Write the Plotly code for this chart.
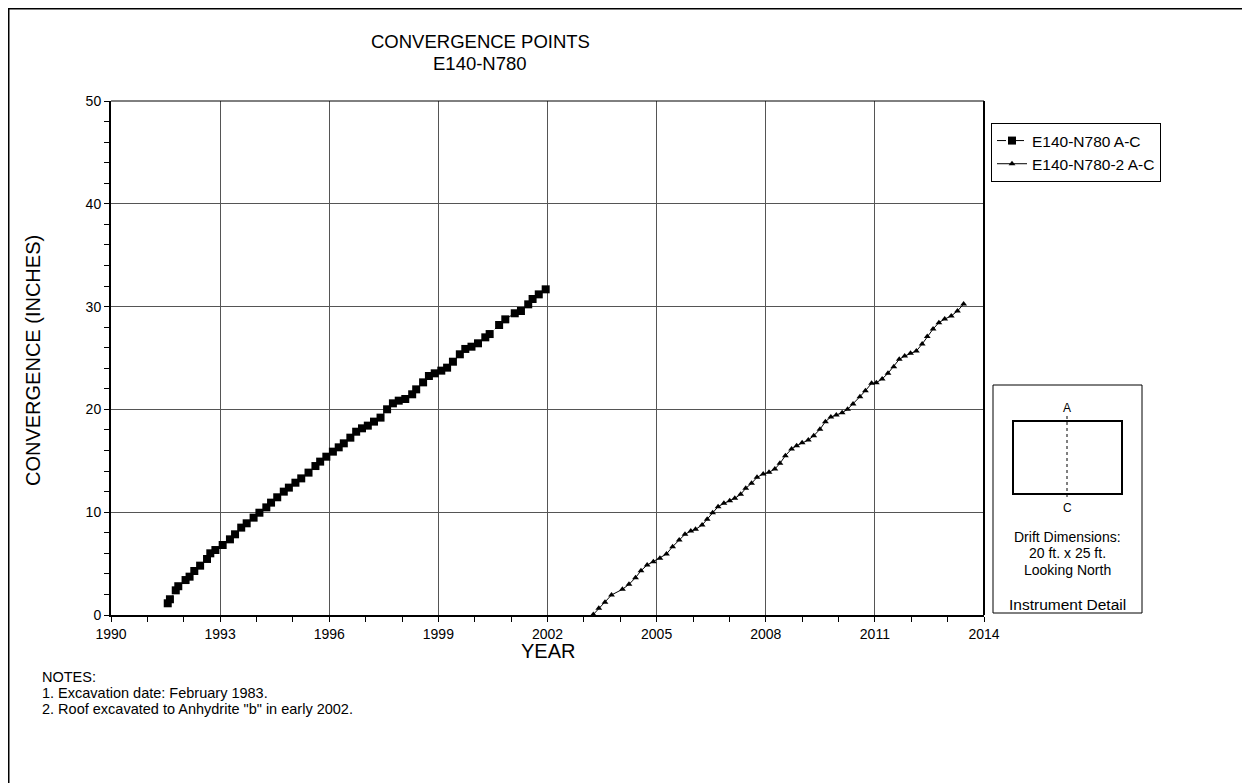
import plotly.graph_objects as go

# Series 1: E140-N780 A-C (squares)
s1_year = [1991.56, 1991.62, 1991.78, 1991.85, 1992.05, 1992.16, 1992.29, 1992.45, 1992.64, 1992.73,
           1992.87, 1993.07, 1993.27, 1993.41, 1993.58, 1993.73, 1993.92, 1994.08, 1994.27, 1994.40,
           1994.57, 1994.75, 1994.89, 1995.07, 1995.23, 1995.43, 1995.62, 1995.75, 1995.92, 1996.10,
           1996.26, 1996.40, 1996.58, 1996.74, 1996.90, 1997.06, 1997.23, 1997.41, 1997.59, 1997.75,
           1997.91, 1998.09, 1998.28, 1998.39, 1998.58, 1998.74, 1998.90, 1999.08, 1999.24, 1999.40,
           1999.59, 1999.74, 1999.91, 2000.09, 2000.29, 2000.41, 2000.67, 2000.84, 2001.10, 2001.27,
           2001.47, 2001.59, 2001.76, 2001.95]
s1_conv = [1.14, 1.53, 2.40, 2.80, 3.40, 3.73, 4.28, 4.80, 5.45, 6.00,
           6.32, 6.81, 7.36, 7.85, 8.50, 8.92, 9.47, 9.95, 10.47, 10.93,
           11.45, 12.00, 12.39, 12.87, 13.29, 13.85, 14.49, 14.92, 15.40, 15.89,
           16.31, 16.70, 17.25, 17.83, 18.16, 18.42, 18.81, 19.20, 20.01, 20.59,
           20.85, 21.01, 21.47, 21.95, 22.63, 23.25, 23.51, 23.77, 24.06, 24.64,
           25.36, 25.88, 26.10, 26.43, 27.01, 27.33, 28.21, 28.76, 29.35, 29.57,
           30.22, 30.74, 31.19, 31.68]

# Series 2: E140-N780-2 A-C (triangles)
s2_year = [2003.26, 2003.41, 2003.58, 2003.76, 2004.06, 2004.24, 2004.42, 2004.57, 2004.74, 2004.91,
           2005.09, 2005.27, 2005.44, 2005.62, 2005.78, 2005.94, 2006.07, 2006.25, 2006.39, 2006.54,
           2006.69, 2006.85, 2007.01, 2007.15, 2007.31, 2007.45, 2007.61, 2007.76, 2007.93, 2008.09,
           2008.25, 2008.39, 2008.54, 2008.71, 2008.85, 2009.00, 2009.17, 2009.32, 2009.49, 2009.64,
           2009.79, 2009.94, 2010.10, 2010.25, 2010.40, 2010.59, 2010.74, 2010.91, 2011.04, 2011.20,
           2011.36, 2011.52, 2011.67, 2011.82, 2011.98, 2012.14, 2012.30, 2012.44, 2012.60, 2012.76,
           2012.92, 2013.10, 2013.27, 2013.44]
s2_conv = [0.05, 0.65, 1.23, 1.95, 2.50, 2.98, 3.63, 4.31, 4.86, 5.19,
           5.51, 5.93, 6.65, 7.30, 7.85, 8.17, 8.33, 8.75, 9.31, 9.95,
           10.54, 10.86, 11.12, 11.35, 11.74, 12.32, 12.81, 13.39, 13.72, 13.88,
           14.20, 14.75, 15.50, 16.15, 16.47, 16.76, 17.02, 17.44, 18.06, 18.81,
           19.26, 19.46, 19.68, 20.01, 20.53, 21.24, 21.82, 22.54, 22.60, 22.96,
           23.51, 24.16, 24.87, 25.19, 25.45, 25.68, 26.36, 27.08, 27.82, 28.44,
           28.79, 29.09, 29.57, 30.25]

series_names = ["E140-N780 A-C", "E140-N780-2 A-C"]
title_lines = ["CONVERGENCE POINTS", "E140-N780"]
notes = ["NOTES:", "1. Excavation date: February 1983.",
         "2. Roof excavated to Anhydrite \"b\" in early 2002."]
detail_text = ["Drift Dimensions:", "20 ft. x 25 ft.", "Looking North"]

# page body has an 8px margin; figure is placed at (8, 8) in the page
OFF = 8
W, H = 1250 - OFF, 783 - OFF
# plot area in page pixels
L, R, T, B = 111, 984, 101, 615
FONT = "Liberation Sans, Arial, sans-serif"


def px(x):
    return (x - L) / (R - L)


def py(y):
    return (B - y) / (B - T)


fig = go.Figure()
fig.add_trace(go.Scatter(x=s1_year, y=s1_conv, name=series_names[0], mode="lines+markers",
                         line=dict(color="black", width=1, dash="dash"),
                         marker=dict(symbol="square", size=8, color="black")))
fig.add_trace(go.Scatter(x=s2_year, y=s2_conv, name=series_names[1], mode="lines+markers",
                         line=dict(color="black", width=1),
                         marker=dict(symbol="triangle-up", size=6, color="black")))

shapes = []
ann = []

# outer frame (top and left edges of the page border)
shapes.append(dict(type="line", xref="paper", yref="paper", x0=px(OFF), x1=px(1250), y0=py(OFF), y1=py(OFF),
                   line=dict(color="black", width=3)))
shapes.append(dict(type="line", xref="paper", yref="paper", x0=px(OFF), x1=px(OFF), y0=py(OFF), y1=py(800),
                   line=dict(color="black", width=3)))
# plot frame top and right
shapes.append(dict(type="line", xref="paper", yref="paper", x0=0, x1=1, y0=1, y1=1,
                   line=dict(color="black", width=1)))
shapes.append(dict(type="line", xref="paper", yref="paper", x0=1, x1=1, y0=0, y1=1,
                   line=dict(color="black", width=2)))

# instrument detail box
shapes.append(dict(type="rect", xref="paper", yref="paper", x0=px(993), x1=px(1142), y0=py(613), y1=py(385),
                   line=dict(color="black", width=1)))
shapes.append(dict(type="rect", xref="paper", yref="paper", x0=px(1013), x1=px(1122), y0=py(494), y1=py(421),
                   line=dict(color="black", width=2)))
shapes.append(dict(type="line", xref="paper", yref="paper", x0=px(1067), x1=px(1067), y0=py(497), y1=py(416),
                   line=dict(color="black", width=1, dash="3px,3px")))
ann.append(dict(xref="paper", yref="paper", x=px(1067), y=py(408), text="A", showarrow=False,
                font=dict(size=12, family=FONT, color="black"), xanchor="center", yanchor="middle"))
ann.append(dict(xref="paper", yref="paper", x=px(1067), y=py(508), text="C", showarrow=False,
                font=dict(size=12, family=FONT, color="black"), xanchor="center", yanchor="middle"))
for i, t in enumerate(detail_text):
    ann.append(dict(xref="paper", yref="paper", x=px(1067), y=py([537, 553, 570][i]), text=t,
                    showarrow=False, font=dict(size=14, family=FONT, color="black"),
                    xanchor="center", yanchor="middle"))
ann.append(dict(xref="paper", yref="paper", x=px(1067), y=py(604), text="Instrument Detail",
                showarrow=False, font=dict(size=15.5, family=FONT, color="black"),
                xanchor="center", yanchor="middle"))

# title
ann.append(dict(xref="paper", yref="paper", x=px(480), y=py(42), text=title_lines[0], showarrow=False,
                font=dict(size=18.5, family=FONT, color="black"), xanchor="center", yanchor="middle"))
ann.append(dict(xref="paper", yref="paper", x=px(480), y=py(63), text=title_lines[1], showarrow=False,
                font=dict(size=18.5, family=FONT, color="black"), xanchor="center", yanchor="middle"))
# axis titles
ann.append(dict(xref="paper", yref="paper", x=px(548), y=py(651), text="YEAR", showarrow=False,
                font=dict(size=20, family=FONT, color="black"), xanchor="center", yanchor="middle"))
ann.append(dict(xref="paper", yref="paper", x=px(33), y=py(361), text="CONVERGENCE (INCHES)", showarrow=False,
                textangle=-90, font=dict(size=20, family=FONT, color="black"),
                xanchor="center", yanchor="middle"))
# notes
for i, t in enumerate(notes):
    ann.append(dict(xref="paper", yref="paper", x=px(40), y=py([677, 693, 709][i]), text=t, showarrow=False,
                    font=dict(size=14.5, family=FONT, color="black"), xanchor="left", yanchor="middle"))

fig.update_layout(
    width=W, height=H,
    margin=dict(l=L - OFF, r=W - (R - OFF), t=T - OFF, b=H - (B - OFF), pad=0),
    plot_bgcolor="white", paper_bgcolor="white",
    font=dict(family=FONT, size=14, color="black"),
    showlegend=True,
    legend=dict(x=px(991), y=py(123), xanchor="left", yanchor="top",
                bordercolor="black", borderwidth=1, bgcolor="white",
                font=dict(size=15.5, family=FONT, color="black"),
                tracegroupgap=0, itemwidth=30),
    shapes=shapes, annotations=ann,
)
fig.update_xaxes(range=[1990, 2014], tick0=1990, dtick=3, showgrid=True, gridcolor="#555555", gridwidth=1,
                 zeroline=False, showline=True, linecolor="black", linewidth=2,
                 ticks="outside", ticklen=5, tickwidth=1, tickcolor="black",
                 tickfont=dict(size=14, family=FONT, color="black"),
                 minor=dict(dtick=1, tick0=1990, ticks="outside", ticklen=5, tickcolor="black", showgrid=False))
fig.update_yaxes(range=[0, 50], tick0=0, dtick=10, showgrid=True, gridcolor="#555555", gridwidth=1,
                 zeroline=False, showline=True, linecolor="black", linewidth=2,
                 ticks="outside", ticklen=5, tickwidth=1, tickcolor="black",
                 tickfont=dict(size=14, family=FONT, color="black"),
                 minor=dict(dtick=2, tick0=0, ticks="outside", ticklen=5, tickcolor="black", showgrid=False))

fig.write_html("out.html")
